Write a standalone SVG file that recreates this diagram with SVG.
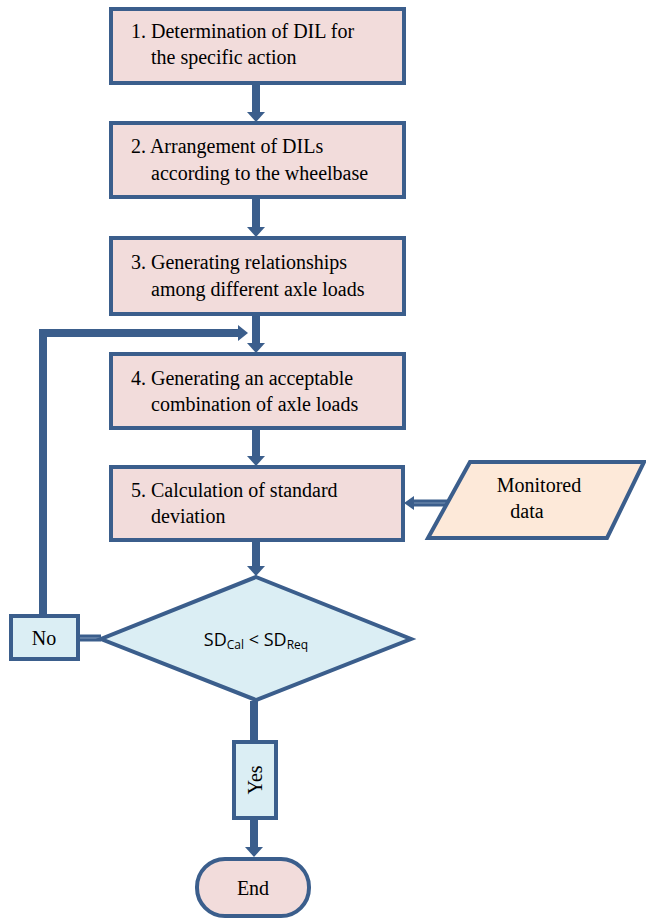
<svg xmlns="http://www.w3.org/2000/svg" width="646" height="920" viewBox="0 0 646 920">
<defs>
<style>
.box{fill:#f2dcdb;stroke:#3b5e8c;stroke-width:4}
.lb{fill:#dbeef4;stroke:#3b5e8c;stroke-width:4}
.io{fill:#fde9d9;stroke:#3b5e8c;stroke-width:4}
.t{font-family:'Liberation Serif','Times New Roman',Tinos,'DejaVu Serif',serif;font-size:20px;fill:#000}
.s{font-family:'Open Sans','Noto Sans',sans-serif;font-size:18px;fill:#000}
.c{fill:none;stroke:#3b5e8c;stroke-width:8}
.d{fill:none;stroke:#3b5e8c;stroke-width:7}
.di{fill:none;stroke:#7a93b5;stroke-width:1.2}
.ah{fill:#3b5e8c}
</style>
</defs>
<g id="connectors">
<line class="c" x1="256" y1="84" x2="256" y2="114"/>
<polygon class="ah" points="247,112 265,112 256,122"/>
<line class="c" x1="256" y1="198" x2="256" y2="229"/>
<polygon class="ah" points="247,227 265,227 256,237"/>
<line class="c" x1="256" y1="315" x2="256" y2="345"/>
<polygon class="ah" points="247,343 265,343 256,353"/>
<line class="c" x1="256" y1="429" x2="256" y2="458"/>
<polygon class="ah" points="247,456 265,456 256,466"/>
<line class="c" x1="256" y1="541" x2="256" y2="568"/>
<polygon class="ah" points="247,566 265,566 256,576"/>
<polyline class="c" points="43,614 43,333 240,333"/>
<polygon class="ah" points="238,325 238,341 248,333"/>
<line class="d" x1="80" y1="638" x2="101" y2="638"/>
<line class="di" x1="80" y1="638" x2="101" y2="638"/>
<line class="d" x1="413" y1="503" x2="452" y2="503"/>
<line class="di" x1="413" y1="503" x2="452" y2="503"/>
<polygon class="ah" points="404,503 414,496 414,510"/>
<line class="c" x1="254" y1="701" x2="254" y2="741"/>
<line class="c" x1="254" y1="819" x2="254" y2="849"/>
<polygon class="ah" points="245,847 263,847 254,857"/>
</g>
<g id="n1"><rect class="box" x="111" y="9" width="293" height="74"/>
<text class="t" x="131" y="38">1. Determination of DIL for</text><text class="t" x="151" y="64">the specific action</text></g>
<g id="n2"><rect class="box" x="111" y="123" width="293" height="74"/>
<text class="t" x="131" y="153">2. Arrangement of DILs</text><text class="t" x="151" y="180">according to the wheelbase</text></g>
<g id="n3"><rect class="box" x="111" y="238" width="293" height="76"/>
<text class="t" x="131" y="269">3. Generating relationships</text><text class="t" x="151" y="296">among different axle loads</text></g>
<g id="n4"><rect class="box" x="111" y="354" width="293" height="74"/>
<text class="t" x="131" y="385">4. Generating an acceptable</text><text class="t" x="151" y="411">combination of axle loads</text></g>
<g id="n5"><rect class="box" x="111" y="467" width="292" height="73"/>
<text class="t" x="131" y="497">5. Calculation of standard</text><text class="t" x="151" y="523">deviation</text></g>
<g id="data"><polygon class="io" points="470,462 644,462 607,538 428,538"/>
<text class="t" x="539" y="492" text-anchor="middle">Monitored</text><text class="t" x="527" y="518" text-anchor="middle">data</text></g>
<g id="decision"><polygon class="lb" points="256,577 411,639 256,700 101,639"/>
<text class="s" x="256" y="646" text-anchor="middle">SD<tspan font-size="12" dy="3">Cal</tspan><tspan dy="-3"> &lt; SD</tspan><tspan font-size="12" dy="3">Req</tspan></text></g>
<g id="no"><rect class="lb" x="11" y="616" width="67" height="43"/>
<text class="t" x="44" y="645" text-anchor="middle">No</text></g>
<g id="yes"><rect class="lb" x="234" y="742" width="42" height="76"/>
<text class="t" transform="translate(262,780) rotate(-90)" text-anchor="middle">Yes</text></g>
<g id="end"><rect class="box" x="197" y="859" width="112" height="57" rx="28" ry="28"/>
<text class="t" x="253" y="895" text-anchor="middle">End</text></g>
</svg>
